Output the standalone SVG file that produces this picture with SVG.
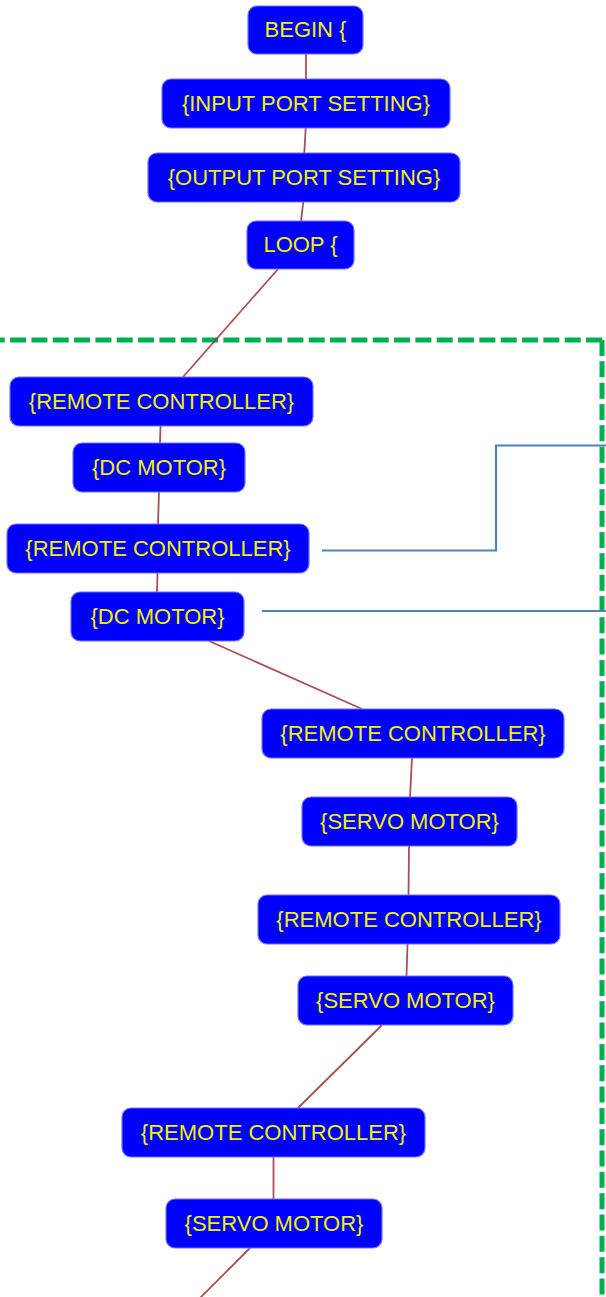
<svg xmlns="http://www.w3.org/2000/svg" width="606" height="1297" viewBox="0 0 606 1297">
  <style>
    .node rect { fill: #0000ff; stroke: #6f6fff; stroke-width: 1.2; }
    .node text { fill: #f2f200; font-family: "Liberation Sans", Arial, sans-serif; font-size: 22px; text-anchor: middle; }
    .edge { stroke: #9a3030; stroke-width: 1.8; stroke-opacity: 0.85; fill: none; }
    .callout { stroke: #4f81bd; stroke-width: 2.2; fill: none; }
    .frame { stroke: #00b050; stroke-width: 5; fill: none; stroke-dasharray: 16 5.33; }
  </style>
  <rect width="606" height="1297" fill="#ffffff"/>
  <g id="frame">
    <path class="frame" d="M602,340 H-20"/>
    <path class="frame" d="M602,340 V1310"/>
  </g>
  <g id="callouts">
    <path class="callout" d="M322,550.5 H496 V445.5 H606"/>
    <path class="callout" d="M262,611 H606"/>
  </g>
  <g id="connectors">
    <line class="edge" x1="306" y1="54" x2="306" y2="79"/>
    <line class="edge" x1="305.7" y1="128" x2="304.3" y2="153"/>
    <line class="edge" x1="303.3" y1="202" x2="301" y2="221"/>
    <line class="edge" x1="278" y1="269" x2="183" y2="377"/>
    <line class="edge" x1="160.5" y1="426" x2="160" y2="443"/>
    <line class="edge" x1="159" y1="492" x2="158" y2="524"/>
    <line class="edge" x1="157.5" y1="573" x2="157" y2="592"/>
    <line class="edge" x1="209" y1="641" x2="362" y2="709"/>
    <line class="edge" x1="412" y1="758" x2="410" y2="797"/>
    <line class="edge" x1="409" y1="846" x2="408.5" y2="895"/>
    <line class="edge" x1="407.5" y1="944" x2="406.5" y2="976"/>
    <line class="edge" x1="382" y1="1025" x2="298" y2="1108"/>
    <line class="edge" x1="273.5" y1="1157" x2="273.5" y2="1199"/>
    <line class="edge" x1="250" y1="1248" x2="198" y2="1300"/>
  </g>
  <g id="n-begin" class="node"><rect x="248" y="6" width="115" height="48" rx="9"/><text x="305.5" y="37">BEGIN {</text></g>
  <g id="n-input" class="node"><rect x="162" y="79" width="288" height="49" rx="9"/><text x="306" y="110.5">{INPUT PORT SETTING}</text></g>
  <g id="n-output" class="node"><rect x="148" y="153" width="312" height="49" rx="9"/><text x="304" y="184.5">{OUTPUT PORT SETTING}</text></g>
  <g id="n-loop" class="node"><rect x="247" y="221" width="107" height="48" rx="9"/><text x="300.5" y="252">LOOP {</text></g>
  <g id="n-rc1" class="node"><rect x="10" y="377" width="303" height="49" rx="9"/><text x="161.5" y="408.5">{REMOTE CONTROLLER}</text></g>
  <g id="n-dc1" class="node"><rect x="73" y="443" width="172" height="49" rx="9"/><text x="159" y="474.5">{DC MOTOR}</text></g>
  <g id="n-rc2" class="node"><rect x="7" y="524" width="302" height="49" rx="9"/><text x="158" y="555.5">{REMOTE CONTROLLER}</text></g>
  <g id="n-dc2" class="node"><rect x="71" y="592" width="173" height="49" rx="9"/><text x="157.5" y="623.5">{DC MOTOR}</text></g>
  <g id="n-rc3" class="node"><rect x="262" y="709" width="302" height="49" rx="9"/><text x="413" y="740.5">{REMOTE CONTROLLER}</text></g>
  <g id="n-servo1" class="node"><rect x="302" y="797" width="215" height="49" rx="9"/><text x="409.5" y="828.5">{SERVO MOTOR}</text></g>
  <g id="n-rc4" class="node"><rect x="258" y="895" width="302" height="49" rx="9"/><text x="409" y="926.5">{REMOTE CONTROLLER}</text></g>
  <g id="n-servo2" class="node"><rect x="298" y="976" width="215" height="49" rx="9"/><text x="405.5" y="1007.5">{SERVO MOTOR}</text></g>
  <g id="n-rc5" class="node"><rect x="122" y="1108" width="303" height="49" rx="9"/><text x="273.5" y="1139.5">{REMOTE CONTROLLER}</text></g>
  <g id="n-servo3" class="node"><rect x="166" y="1199" width="216" height="49" rx="9"/><text x="274" y="1230.5">{SERVO MOTOR}</text></g>
</svg>
